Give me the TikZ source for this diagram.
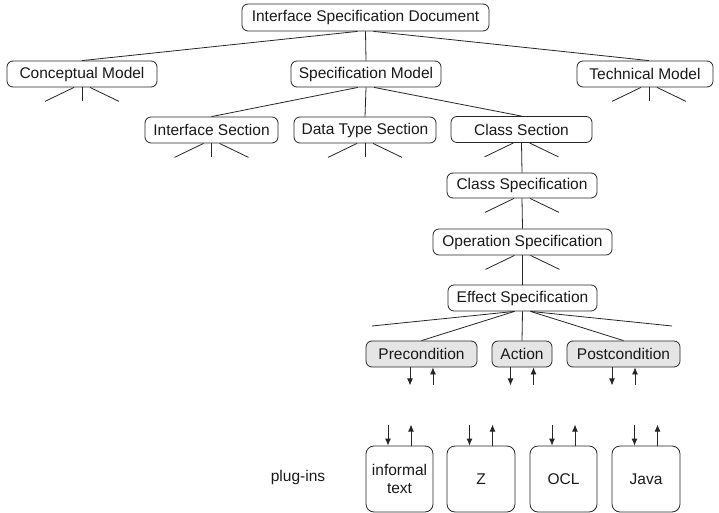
\documentclass[tikz,border=0pt]{standalone}
\usepackage{fontspec}
\setmainfont{Liberation Sans}
\usetikzlibrary{arrows.meta}
\begin{document}
\begin{tikzpicture}[x=1pt,y=-1pt,
  ln/.style={draw=black!85, line width=0.8pt},
  box/.style={ln, rounded corners=6pt, inner sep=0pt, minimum height=26pt,
    font=\fontsize{15.5}{18}\selectfont, text=black!90},
  gbox/.style={box, fill=black!10},
  pbox/.style={box, rounded corners=8pt, minimum height=66pt, align=center},
  arr/.style={ln, -{Latex[length=7pt,width=6pt]}}]
\useasboundingbox (0,0) rectangle (719,513);
% nodes
\node[box, minimum width=247pt, minimum height=27pt] (doc) at (365.5,17.5) {Interface Specification Document};
\node[box, minimum width=150pt] (cm) at (82,74) {Conceptual Model};
\node[box, minimum width=150pt] (sm) at (366,74) {Specification Model};
\node[box, minimum width=136pt] (tm) at (645,74) {Technical Model};
\node[box, minimum width=133pt] (is) at (211.5,130) {Interface Section};
\node[box, minimum width=142pt] (dts) at (365,130) {Data Type Section};
\node[box, minimum width=141pt] (cs) at (521.5,129.5) {Class Section};
\node[box, minimum width=150pt, minimum height=25pt] (csp) at (522,185.5) {Class Specification};
\node[box, minimum width=179pt] (osp) at (522.5,242) {Operation Specification};
\node[box, minimum width=149pt] (esp) at (522.5,298) {Effect Specification};
\node[gbox, minimum width=111pt] (pre) at (421.5,354) {Precondition};
\node[gbox, minimum width=60pt] (act) at (522,354) {Action};
\node[gbox, minimum width=113pt] (post) at (623.5,354) {Postcondition};
\node[pbox, minimum width=67pt] (inf) at (399.5,479) {informal\\text};
\node[pbox, minimum width=68pt] (z) at (481,479) {Z};
\node[pbox, minimum width=67pt] (ocl) at (563.5,479) {OCL};
\node[pbox, minimum width=68pt] (java) at (646,479) {Java};
\node[font=\fontsize{15.5}{18}\selectfont, text=black!90] (plug) at (298,477) {plug-ins};
\coordinate (fl) at (372,326);
\coordinate (fr) at (672,326);
% tree connectors
\draw[ln] ([xshift=-8pt]doc.south) -- (cm.north);
\draw[ln] (doc.south) -- (sm.north);
\draw[ln] ([xshift=8pt]doc.south) -- ([xshift=4pt]tm.north);
\draw[ln] ([xshift=-8pt]sm.south) -- (is.north);
\draw[ln] (sm.south) -- (dts.north);
\draw[ln] ([xshift=8pt]sm.south) -- (cs.north);
\draw[ln] (cs.south) -- (csp.north);
\draw[ln] (csp.south) -- (osp.north);
\draw[ln] (osp.south) -- (esp.north);
\draw[ln] ([xshift=-8pt]esp.south) -- (fl);
\draw[ln] ([xshift=-8pt]esp.south) -- (pre.north);
\draw[ln] (esp.south) -- (act.north);
\draw[ln] ([xshift=8pt]esp.south) -- (post.north);
\draw[ln] ([xshift=8pt]esp.south) -- (fr);
% fans
\foreach \n/\s in {cm/0,tm/4,is/0,dts/0}{
  \draw[ln] ([xshift=\s pt-8pt]\n.south) -- ++(-29,14);
  \draw[ln] ([xshift=\s pt]\n.south) -- ++(0,14);
  \draw[ln] ([xshift=\s pt+8pt]\n.south) -- ++(29,14);
}
\foreach \n in {cs,csp,osp}{
  \draw[ln] ([xshift=-8pt]\n.south) -- ++(-29,14);
  \draw[ln] ([xshift=8pt]\n.south) -- ++(29,14);
}
% arrows under condition boxes
\foreach \n in {pre,act,post}{
  \draw[arr] ([xshift=-11.5pt]\n.south) -- ([xshift=-11.5pt,yshift=-18pt]\n.south);
  \draw[arr] ([xshift=11.5pt,yshift=-18pt]\n.south) -- ([xshift=11.5pt]\n.south);
}
% arrows above plug-in boxes
\foreach \n in {inf,z,ocl,java}{
  \draw[arr] ([xshift=-11.5pt,yshift=21pt]\n.north) -- ([xshift=-11.5pt]\n.north);
  \draw[arr] ([xshift=11.5pt]\n.north) -- ([xshift=11.5pt,yshift=21pt]\n.north);
}
\end{tikzpicture}
\end{document}
